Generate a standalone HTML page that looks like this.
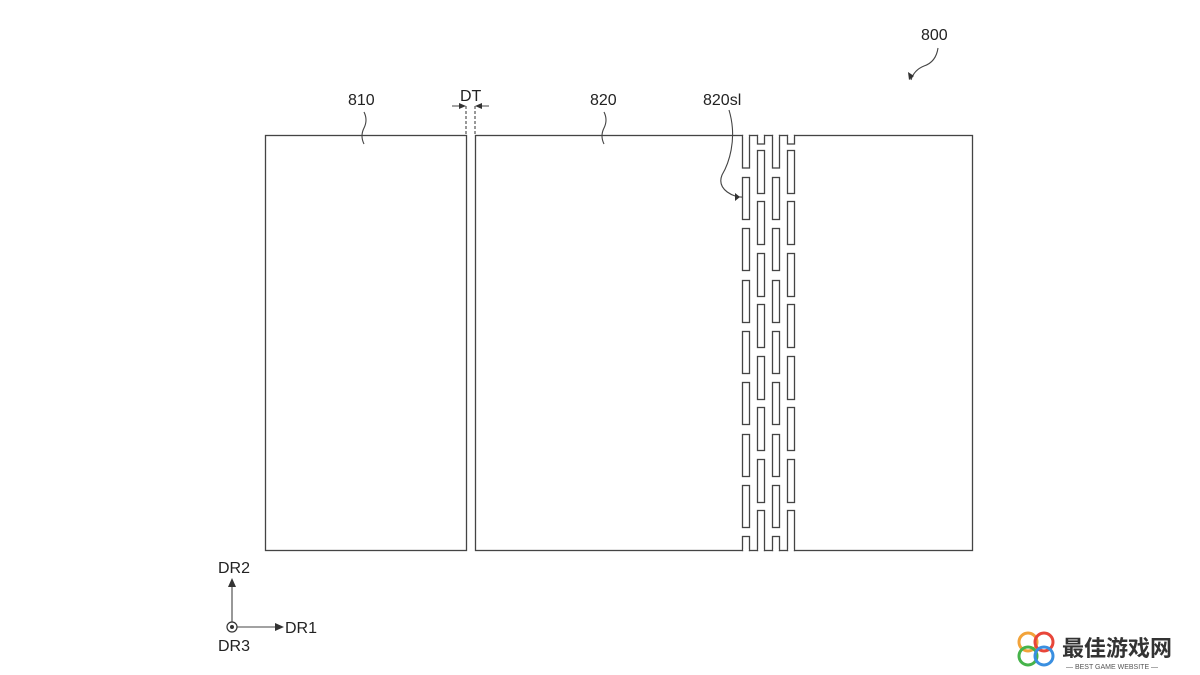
<!DOCTYPE html>
<html><head><meta charset="utf-8"><style>
html,body{margin:0;padding:0;background:#fff;width:1200px;height:675px;overflow:hidden}
text{font-family:"Liberation Sans",sans-serif;fill:#222}
</style></head><body>
<svg width="1200" height="675" xmlns="http://www.w3.org/2000/svg">
<g fill="none" stroke="#444" stroke-width="1.3">
<rect x="265.5" y="135.5" width="201" height="415"/>
<rect x="475.5" y="135.5" width="497" height="415"/>
</g>
<!-- slots -->
<g fill="#fff" stroke="#444" stroke-width="1.3">
<rect x="742.5" y="135.5" width="7" height="32.5"/><rect x="772.5" y="135.5" width="7" height="32.5"/>
<rect x="757.5" y="135.5" width="7" height="8.5"/><rect x="787.5" y="135.5" width="7" height="8.5"/>
<rect x="757.5" y="510.5" width="7" height="40"/><rect x="787.5" y="510.5" width="7" height="40"/>
<rect x="742.5" y="536.5" width="7" height="14"/><rect x="772.5" y="536.5" width="7" height="14"/>
<g>
<rect x="742.5" y="177.5" width="7" height="42"/><rect x="742.5" y="228.5" width="7" height="42"/><rect x="742.5" y="280.5" width="7" height="42"/><rect x="742.5" y="331.5" width="7" height="42"/><rect x="742.5" y="382.5" width="7" height="42"/><rect x="742.5" y="434.5" width="7" height="42"/><rect x="742.5" y="485.5" width="7" height="42"/>
<rect x="772.5" y="177.5" width="7" height="42"/><rect x="772.5" y="228.5" width="7" height="42"/><rect x="772.5" y="280.5" width="7" height="42"/><rect x="772.5" y="331.5" width="7" height="42"/><rect x="772.5" y="382.5" width="7" height="42"/><rect x="772.5" y="434.5" width="7" height="42"/><rect x="772.5" y="485.5" width="7" height="42"/>
<rect x="757.5" y="150.5" width="7" height="43"/><rect x="757.5" y="201.5" width="7" height="43"/><rect x="757.5" y="253.5" width="7" height="43"/><rect x="757.5" y="304.5" width="7" height="43"/><rect x="757.5" y="356.5" width="7" height="43"/><rect x="757.5" y="407.5" width="7" height="43"/><rect x="757.5" y="459.5" width="7" height="43"/>
<rect x="787.5" y="150.5" width="7" height="43"/><rect x="787.5" y="201.5" width="7" height="43"/><rect x="787.5" y="253.5" width="7" height="43"/><rect x="787.5" y="304.5" width="7" height="43"/><rect x="787.5" y="356.5" width="7" height="43"/><rect x="787.5" y="407.5" width="7" height="43"/><rect x="787.5" y="459.5" width="7" height="43"/>
</g></g>
<g fill="#fff">
<rect x="743.2" y="134" width="5.6" height="3"/><rect x="773.2" y="134" width="5.6" height="3"/><rect x="758.2" y="134" width="5.6" height="3"/><rect x="788.2" y="134" width="5.6" height="3"/>
<rect x="743.2" y="549" width="5.6" height="3"/><rect x="773.2" y="549" width="5.6" height="3"/><rect x="758.2" y="549" width="5.6" height="3"/><rect x="788.2" y="549" width="5.6" height="3"/>
</g>
<!-- leaders -->
<g fill="none" stroke="#444" stroke-width="1.1">
<path d="M364 112 q4 8 0 16 q-4 8 0 16"/>
<path d="M604 112 q4 8 0 16 q-4 8 0 16"/>
<path d="M729 110 C738 140,728 165,722 175 C716 190,735 198,743 197"/>
<path d="M938 48 q-2 14 -14 18 q-10 4 -13 14"/>
<path d="M466 106 v30 M475 106 v30" stroke-dasharray="3,2"/>
<path d="M452 106 h10 M479 106 h10"/>
<path d="M232 622 V585 M237 627 H276"/>
</g>
<g fill="#333">
<path d="M466 106 l-7 -3 v6z M475 106 l7 -3 v6z"/>
<path d="M909 80 l-1 -8 l6 4z"/>
<path d="M740 197 l-5 -4 v8z"/>
<path d="M232 578 l-4 9 h8z M284 627 l-9 -4 v8z"/>
<circle cx="232" cy="627" r="2"/>
</g>
<circle cx="232" cy="627" r="5" fill="none" stroke="#333" stroke-width="1.2"/>
<g font-size="16">
<text x="348" y="105">810</text>
<text x="460" y="101">DT</text>
<text x="590" y="105">820</text>
<text x="703" y="105">820sl</text>
<text x="921" y="40">800</text>
<text x="218" y="573">DR2</text>
<text x="285" y="633">DR1</text>
<text x="218" y="651">DR3</text>
</g>
<!-- watermark -->
<g fill="none" stroke-width="3">
<circle cx="1028" cy="642" r="9" stroke="#f2a33a"/>
<circle cx="1044" cy="642" r="9" stroke="#e8463a"/>
<circle cx="1028" cy="656" r="9" stroke="#46b34a"/>
<circle cx="1044" cy="656" r="9" stroke="#3a8fe0"/>
</g>
<text x="1062" y="656" font-size="22" font-weight="bold" style="font-family:'Liberation Sans','Noto Sans CJK SC',sans-serif;fill:#333">最佳游戏网</text>
<text x="1066" y="669" font-size="7" style="fill:#555">— BEST GAME WEBSITE —</text>
</svg>
</body></html>
